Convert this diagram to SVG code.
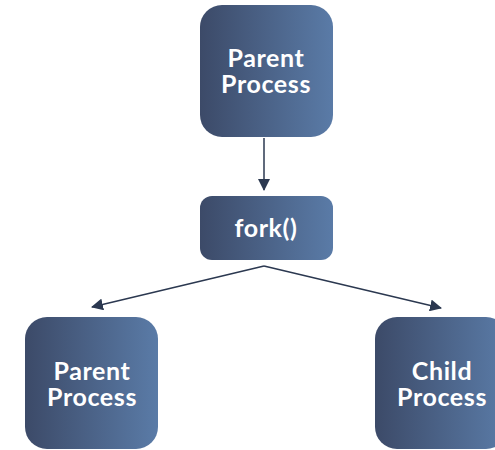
<svg xmlns="http://www.w3.org/2000/svg" width="495" height="450" viewBox="0 0 495 450">
<defs>
<linearGradient id="g" x1="0" y1="0" x2="1" y2="0">
<stop offset="0" stop-color="#3c4a68"/>
<stop offset="1" stop-color="#5a7ba7"/>
</linearGradient>
<marker id="ah" viewBox="0 0 12 12" refX="11" refY="6" markerWidth="12" markerHeight="12" markerUnits="userSpaceOnUse" orient="auto">
<path d="M0,0 L12,6 L0,12 z" fill="#2b3850"/>
</marker>
<style>
.box{fill:url(#g)}
.t{font-family:Lato,"Open Sans",sans-serif;font-weight:bold;font-size:25px;letter-spacing:0.6px;fill:#ffffff;text-anchor:middle}
.c{stroke:#2b3850;stroke-width:1.5;fill:none;marker-end:url(#ah)}
</style>
</defs>
<rect width="495" height="450" fill="#ffffff"/>
<g id="connectors">
<line class="c" x1="264" y1="138" x2="264" y2="190"/>
<line class="c" x1="264" y1="266" x2="92" y2="307"/>
<line class="c" x1="264" y1="266" x2="441" y2="308"/>
</g>
<g id="parent-top">
<rect class="box" x="200" y="5" width="133" height="132" rx="22"/>
<text class="t" x="266" y="67">Parent</text>
<text class="t" x="266" y="93">Process</text>
</g>
<g id="fork">
<rect class="box" x="200" y="196" width="133" height="64" rx="12"/>
<text class="t" x="266" y="237">fork()</text>
</g>
<g id="parent-bottom">
<rect class="box" x="25" y="317" width="133" height="132" rx="22"/>
<text class="t" x="92" y="380">Parent</text>
<text class="t" x="92" y="406">Process</text>
</g>
<g id="child">
<rect class="box" x="375" y="317" width="133" height="132" rx="22"/>
<text class="t" x="442" y="380">Child</text>
<text class="t" x="442" y="406">Process</text>
</g>
</svg>
